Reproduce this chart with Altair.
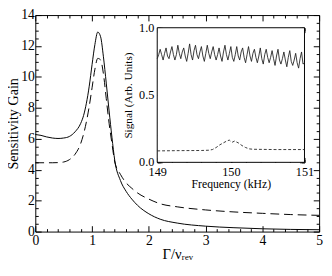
import altair as alt
import pandas as pd

# ---------------- main plot data ----------------
gamma = [0, 0.1, 0.2, 0.3, 0.4, 0.5, 0.6, 0.7, 0.8, 0.85, 0.9, 0.95, 1.0, 1.05,
         1.1, 1.15, 1.2, 1.25, 1.3, 1.35, 1.4, 1.5, 1.6, 1.7, 1.8, 2.0, 2.2,
         2.5, 3.0, 3.5, 4.0, 4.5, 5.0]
gain_solid = [6.28, 6.22, 6.12, 6.05, 6.02, 6.05, 6.15, 6.45, 7.0, 7.5, 8.3,
              9.4, 10.8, 12.1, 12.9, 12.6, 11.3, 9.6, 7.8, 6.1, 4.6, 3.3, 2.6,
              2.1, 1.7, 1.15, 0.8, 0.55, 0.35, 0.25, 0.18, 0.14, 0.12]
gain_dashed = [4.45, 4.45, 4.45, 4.45, 4.46, 4.5, 4.65, 5.0, 5.7, 6.3, 7.1,
               8.1, 9.3, 10.5, 11.2, 11.1, 10.2, 8.6, 7.0, 5.7, 4.5, 3.7, 3.15,
               2.8, 2.5, 2.1, 1.8, 1.6, 1.4, 1.27, 1.18, 1.1, 1.05]

x_major = [0, 1, 2, 3, 4, 5]
x_minor = [0.2, 0.4, 0.6, 0.8, 1.2, 1.4, 1.6, 1.8, 2.2, 2.4, 2.6, 2.8,
           3.2, 3.4, 3.6, 3.8, 4.2, 4.4, 4.6, 4.8]
y_major = [0, 2, 4, 6, 8, 10, 12, 14]
y_minor = [0.5, 1, 1.5, 2.5, 3, 3.5, 4.5, 5, 5.5, 6.5, 7, 7.5, 8.5, 9, 9.5,
           10.5, 11, 11.5, 12.5, 13, 13.5]

# ---------------- inset data ----------------
signal_solid = [
    0.77, 0.80, 0.84, 0.80, 0.76, 0.81, 0.85, 0.79, 0.77, 0.82, 0.86, 0.80,
    0.76, 0.80, 0.87, 0.81, 0.77, 0.82, 0.85, 0.79, 0.75, 0.81, 0.88, 0.80,
    0.76, 0.83, 0.87, 0.80, 0.77, 0.82, 0.86, 0.79, 0.75, 0.81, 0.87, 0.81,
    0.77, 0.82, 0.86, 0.80, 0.76, 0.80, 0.85, 0.79, 0.75, 0.82, 0.87, 0.80,
    0.76, 0.81, 0.86, 0.78, 0.75, 0.80, 0.86, 0.79, 0.76, 0.82, 0.85, 0.78,
    0.74, 0.80, 0.86, 0.79, 0.75, 0.81, 0.84, 0.78, 0.74, 0.79, 0.85, 0.77,
    0.73, 0.80, 0.84, 0.78, 0.74, 0.78, 0.83, 0.77, 0.72, 0.79, 0.84, 0.76,
    0.73, 0.77, 0.82, 0.76, 0.71, 0.78, 0.83, 0.75, 0.72, 0.76, 0.81, 0.74,
    0.70, 0.77, 0.82, 0.73, 0.74]
freq_solid = [149 + 0.02 * i for i in range(len(signal_solid))]

freq_dashed = [149.0, 149.3, 149.6, 149.7, 149.75, 149.8, 149.85, 149.9, 149.95,
               149.98, 150.0, 150.02, 150.05, 150.1, 150.15, 150.2, 150.25,
               150.3, 150.6, 151.0]
signal_dashed = [0.085, 0.087, 0.088, 0.09, 0.095, 0.11, 0.13, 0.145, 0.16,
                 0.165, 0.155, 0.15, 0.158, 0.145, 0.125, 0.11, 0.1, 0.097,
                 0.095, 0.095]

f_domain = [149, 151]
s_domain = [0, 1]
s_labels = [0.0, 0.5, 1.0]
f_major_step, f_minor_step = 1, 0.2
s_major_step, s_minor_step = 0.5, 0.1
S_UNIT = 10   # inset y is plotted in tenths

W, H = 291, 222
IN_L, IN_R, IN_T, IN_B = 125, 276, 13, 151
MAJ, MIN = 6, 3
IMAJ, IMIN = 5, 3
TC = 60

FONT = "Liberation Serif"

df_solid = pd.DataFrame({"g": gamma, "v": gain_solid})
df_dashed = pd.DataFrame({"g": gamma, "v": gain_dashed})

xs = alt.Scale(domain=[0, 5], nice=False, zero=False)
ys = alt.Scale(domain=[0, 14], nice=False, zero=False)


def tick_axis(orient, values, offset, size):
    return alt.Axis(orient=orient, values=values, offset=offset, tickSize=size,
                    tickCount=TC, labels=False, title=None, domain=False, grid=False)


def step_count(domain, step):
    return int(round((domain[1] - domain[0]) / step))


def step_axis(orient, domain, step, offset, size):
    return alt.Axis(orient=orient, tickCount=step_count(domain, step),
                    tickMinStep=step, offset=offset, tickSize=size,
                    labels=False, title=None, domain=False, grid=False)


l1 = alt.Chart(df_solid).mark_line(color="black", strokeWidth=1, interpolate="monotone").encode(
    x=alt.X("g:Q", scale=xs, axis=alt.Axis(
        orient="bottom", values=x_major, tickCount=TC, offset=-MAJ, tickSize=MAJ,
        labelPadding=2, labelFlush=False, labelOverlap=False, format="d",
        labelFontSize=14, title="Γ/νᵣₑᵥ", titleFontSize=15, titlePadding=0,
        domain=False)),
    y=alt.Y("v:Q", scale=ys, axis=alt.Axis(
        orient="left", values=y_major, tickCount=TC, offset=-MAJ, tickSize=MAJ,
        labelPadding=1, labelFlush=False, labelOverlap=False, format="d",
        labelFontSize=14, title="Sensitivity Gain", titleFontSize=14.5,
        titlePadding=0, domain=False)),
)
l2 = alt.Chart(df_dashed).mark_line(color="black", strokeWidth=1, strokeDash=[9, 5], interpolate="monotone").encode(
    x=alt.X("g:Q", scale=xs, axis=tick_axis("bottom", x_minor, -MIN, MIN)),
    y=alt.Y("v:Q", scale=ys, axis=tick_axis("left", y_minor, -MIN, MIN)),
)
l3 = alt.Chart(df_solid).mark_line(strokeOpacity=0).encode(
    x=alt.X("g:Q", scale=xs, axis=tick_axis("top", x_major, -MAJ, MAJ)),
    y=alt.Y("v:Q", scale=ys, axis=tick_axis("right", y_major, -MAJ, MAJ)),
)
l4 = alt.Chart(df_solid).mark_line(strokeOpacity=0).encode(
    x=alt.X("g:Q", scale=xs, axis=tick_axis("top", x_minor, -MIN, MIN)),
    y=alt.Y("v:Q", scale=ys, axis=tick_axis("right", y_minor, -MIN, MIN)),
)
main = alt.layer(l1, l2, l3, l4).resolve_axis(x="independent", y="independent")

# ---------------- inset ----------------
df_in_s = pd.DataFrame({"f": freq_solid, "s": signal_solid})
df_in_d = pd.DataFrame({"f": freq_dashed, "s": signal_dashed})
df_frame = pd.DataFrame({"f1": [f_domain[0]], "f2": [f_domain[1]],
                         "s1": [s_domain[0]], "s2": [s_domain[1]]})
df_slab = pd.DataFrame({"v": s_labels, "f0": [f_domain[0]] * len(s_labels)})

s10_domain = [s_domain[0] * S_UNIT, s_domain[1] * S_UNIT]
xi = alt.Scale(domain=f_domain, range=[IN_L, IN_R], nice=False, zero=False)
yi = alt.Scale(domain=s10_domain, range=[IN_B, IN_T], nice=False, zero=False)
to_tenths = f"datum.s * {S_UNIT}"

i0 = alt.Chart(df_frame).mark_rect(fill="white", stroke="black", strokeWidth=1).transform_calculate(
    t1=f"datum.s1 * {S_UNIT}", t2=f"datum.s2 * {S_UNIT}"
).encode(
    x=alt.X("f1:Q", scale=xi, axis=None), x2="f2:Q",
    y=alt.Y("t1:Q", scale=yi, axis=None), y2="t2:Q",
)
i1 = alt.Chart(df_in_s).mark_line(color="#222222", strokeWidth=0.9).transform_calculate(
    t=to_tenths
).encode(
    x=alt.X("f:Q", scale=xi, axis=alt.Axis(
        orient="bottom", tickCount=step_count(f_domain, f_major_step),
        tickMinStep=f_major_step, offset=(IN_B - IMAJ) - H,
        tickSize=IMAJ, labelPadding=3, labelFlush=False, labelOverlap=False,
        format="d", labelFontSize=12.5, title="Frequency (kHz)",
        titleFontSize=12, titlePadding=1, domain=False)),
    y=alt.Y("t:Q", scale=yi, axis=alt.Axis(
        orient="left", tickCount=step_count(s_domain, s_major_step),
        tickMinStep=s_major_step * S_UNIT, offset=-(IN_L + IMAJ),
        tickSize=IMAJ, labels=False, title="Signal (Arb. Units)",
        titleFontSize=11.5, titlePadding=24, domain=False)),
)
i2 = alt.Chart(df_in_d).mark_line(color="#222222", strokeWidth=0.9, strokeDash=[3, 2]).transform_calculate(
    t=to_tenths
).encode(
    x=alt.X("f:Q", scale=xi, axis=step_axis("bottom", f_domain, f_minor_step, (IN_B - IMIN) - H, IMIN)),
    y=alt.Y("t:Q", scale=yi, axis=step_axis("left", s10_domain, s_minor_step * S_UNIT, -(IN_L + IMIN), IMIN)),
)
i3 = alt.Chart(df_in_s).mark_line(strokeOpacity=0).transform_calculate(t=to_tenths).encode(
    x=alt.X("f:Q", scale=xi, axis=step_axis("top", f_domain, f_major_step, -(IN_T + IMAJ), IMAJ)),
    y=alt.Y("t:Q", scale=yi, axis=step_axis("right", s10_domain, s_major_step * S_UNIT, (IN_R - IMAJ) - W, IMAJ)),
)
i4 = alt.Chart(df_in_s).mark_line(strokeOpacity=0).transform_calculate(t=to_tenths).encode(
    x=alt.X("f:Q", scale=xi, axis=step_axis("top", f_domain, f_minor_step, -(IN_T + IMIN), IMIN)),
    y=alt.Y("t:Q", scale=yi, axis=step_axis("right", s10_domain, s_minor_step * S_UNIT, (IN_R - IMIN) - W, IMIN)),
)
# inset y tick labels as text placed through the inset scales
i5 = alt.Chart(df_slab).mark_text(
    align="right", baseline="middle", dx=-3, font=FONT, fontSize=12.5, color="black"
).transform_calculate(
    t=f"datum.v * {S_UNIT}", lab="format(datum.v, '.1f')"
).encode(
    x=alt.X("f0:Q", scale=xi, axis=None),
    y=alt.Y("t:Q", scale=yi, axis=None),
    text="lab:N",
)
inset = alt.layer(i0, i1, i2, i3, i4, i5).resolve_axis(x="independent", y="independent")

chart = alt.layer(main, inset).resolve_scale(
    x="independent", y="independent"
).resolve_axis(
    x="independent", y="independent"
).properties(
    width=W, height=H,
    autosize=alt.AutoSizeParams(type="none"),
    padding={"left": 28, "top": 4, "right": 5, "bottom": 30},
).configure_view(
    stroke="black", strokeWidth=1
).configure_axis(
    grid=False, domain=False, labelFont=FONT, titleFont=FONT,
    titleFontWeight="normal", labelColor="black", titleColor="black",
    tickColor="black", tickWidth=1,
)

chart.save("out.html", embed_options={"renderer": "svg", "actions": False})
